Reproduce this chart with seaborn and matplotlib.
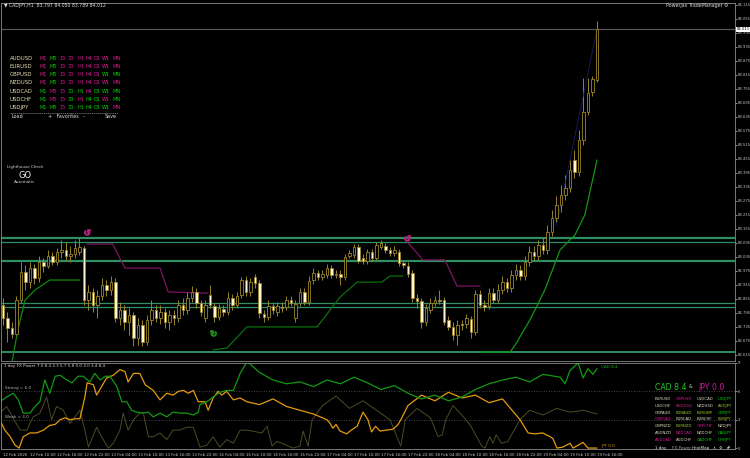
import numpy as np
import pandas as pd
import matplotlib
matplotlib.use("Agg")
import matplotlib.pyplot as plt
import seaborn as sns

sns.set_theme(style="dark")
plt.rcParams['font.family'] = ['DejaVu Sans']

# ---- CADJPY H1 candles (bar index 0..132) ----
opens = [
    82.829, 82.773, 82.730, 82.705, 82.850, 82.970, 82.927, 82.987, 82.945, 83.013,
    82.996, 83.039, 83.013, 83.056, 83.065, 83.039, 83.047, 83.056, 83.073, 82.850,
    82.885, 82.829, 82.867, 82.915, 82.893, 82.927, 82.773, 82.807, 82.756, 82.786,
    82.687, 82.743, 82.670, 82.765, 82.807, 82.773, 82.799, 82.756, 82.786, 82.773,
    82.829, 82.807, 82.859, 82.885, 82.837, 82.773, 82.872, 82.825, 82.777, 82.812,
    82.799, 82.859, 82.829, 82.872, 82.936, 82.885, 82.949, 82.923, 82.790, 82.777,
    82.825, 82.799, 82.820, 82.820, 82.850, 82.773, 82.837, 82.885, 82.842, 82.936,
    82.966, 82.949, 82.957, 82.987, 82.957, 82.962, 82.949, 83.039, 83.043, 83.077,
    83.030, 83.017, 83.056, 83.030, 83.077, 83.082, 83.065, 83.052, 83.056, 83.009,
    82.996, 82.966, 82.859, 82.846, 82.756, 82.807, 82.837, 82.850, 82.850, 82.765,
    82.735, 82.700, 82.747, 82.747, 82.769, 82.713, 82.876, 82.829, 82.825, 82.880,
    82.850, 82.893, 82.927, 82.902, 82.957, 82.979, 82.953, 83.013, 83.056, 83.039,
    83.086, 83.065, 83.142, 83.202, 83.257, 83.300, 83.330, 83.450, 83.399, 83.536,
    83.656, 83.742, 83.793]
highs = [
    82.859, 82.799, 82.756, 82.867, 83.013, 83.000, 83.013, 83.005, 83.039, 83.030,
    83.065, 83.056, 83.073, 83.107, 83.099, 83.082, 83.107, 83.116, 83.082, 82.915,
    82.902, 82.893, 82.945, 82.936, 82.953, 82.945, 82.842, 82.829, 82.816, 82.799,
    82.773, 82.765, 82.786, 82.850, 82.829, 82.829, 82.816, 82.807, 82.807, 82.850,
    82.859, 82.885, 82.910, 82.902, 82.850, 82.850, 82.915, 82.837, 82.833, 82.829,
    82.885, 82.876, 82.885, 82.949, 82.953, 82.945, 82.962, 82.936, 82.807, 82.850,
    82.842, 82.842, 82.842, 82.867, 82.867, 82.850, 82.902, 82.902, 82.953, 82.987,
    82.979, 82.979, 83.005, 83.000, 82.979, 82.979, 83.047, 83.065, 83.090, 83.090,
    83.047, 83.069, 83.069, 83.099, 83.107, 83.095, 83.077, 83.082, 83.069, 83.022,
    83.013, 82.979, 82.876, 82.859, 82.833, 82.859, 82.867, 82.893, 82.863, 82.782,
    82.756, 82.765, 82.765, 82.790, 82.782, 82.893, 82.893, 82.850, 82.902, 82.902,
    82.919, 82.953, 82.945, 82.979, 83.005, 83.000, 83.039, 83.082, 83.082, 83.107,
    83.116, 83.172, 83.236, 83.296, 83.343, 83.386, 83.450, 83.493, 83.579, 83.802,
    83.802, 83.810, 84.046]
lows = [
    82.743, 82.670, 82.687, 82.692, 82.837, 82.893, 82.902, 82.919, 82.927, 82.970,
    82.987, 83.000, 83.000, 83.030, 83.022, 83.013, 83.030, 83.043, 82.829, 82.807,
    82.799, 82.773, 82.850, 82.867, 82.872, 82.756, 82.743, 82.722, 82.700, 82.653,
    82.657, 82.653, 82.657, 82.743, 82.756, 82.747, 82.730, 82.722, 82.743, 82.756,
    82.786, 82.790, 82.842, 82.816, 82.782, 82.756, 82.816, 82.756, 82.765, 82.782,
    82.786, 82.807, 82.816, 82.859, 82.867, 82.867, 82.902, 82.773, 82.756, 82.765,
    82.790, 82.782, 82.799, 82.807, 82.825, 82.756, 82.825, 82.829, 82.829, 82.919,
    82.936, 82.936, 82.945, 82.945, 82.945, 82.915, 82.936, 83.030, 83.030, 83.009,
    83.005, 83.005, 83.017, 83.022, 83.069, 83.052, 83.039, 83.039, 82.996, 82.987,
    82.949, 82.842, 82.816, 82.730, 82.739, 82.795, 82.825, 82.833, 82.743, 82.722,
    82.679, 82.657, 82.722, 82.730, 82.687, 82.700, 82.816, 82.803, 82.812, 82.837,
    82.837, 82.876, 82.885, 82.885, 82.936, 82.936, 82.936, 82.996, 83.022, 83.022,
    83.047, 83.047, 83.125, 83.185, 83.227, 83.279, 83.313, 83.373, 83.382, 83.515,
    83.643, 83.725, 83.785]
closes = [
    82.773, 82.730, 82.705, 82.850, 82.970, 82.927, 82.987, 82.945, 83.013, 82.996,
    83.039, 83.013, 83.056, 83.065, 83.039, 83.047, 83.073, 83.077, 82.850, 82.885,
    82.829, 82.867, 82.915, 82.893, 82.927, 82.773, 82.807, 82.756, 82.786, 82.687,
    82.743, 82.670, 82.765, 82.807, 82.773, 82.799, 82.756, 82.786, 82.773, 82.829,
    82.807, 82.859, 82.885, 82.837, 82.799, 82.829, 82.829, 82.777, 82.816, 82.799,
    82.859, 82.829, 82.867, 82.936, 82.885, 82.927, 82.923, 82.795, 82.777, 82.825,
    82.807, 82.825, 82.816, 82.850, 82.837, 82.833, 82.885, 82.842, 82.932, 82.966,
    82.949, 82.962, 82.987, 82.957, 82.962, 82.949, 83.035, 83.052, 83.077, 83.017,
    83.017, 83.056, 83.030, 83.086, 83.095, 83.065, 83.052, 83.065, 83.009, 83.000,
    82.962, 82.859, 82.846, 82.756, 82.816, 82.837, 82.850, 82.846, 82.756, 82.735,
    82.700, 82.743, 82.743, 82.773, 82.713, 82.876, 82.829, 82.820, 82.880, 82.850,
    82.893, 82.927, 82.902, 82.957, 82.979, 82.953, 83.013, 83.056, 83.039, 83.086,
    83.065, 83.142, 83.202, 83.257, 83.300, 83.330, 83.407, 83.399, 83.536, 83.656,
    83.738, 83.798, 84.012]

time_labels = ["12 Feb 2026", "12 Feb 10:00", "12 Feb 16:00", "12 Feb 22:00",
               "13 Feb 04:00", "13 Feb 10:00", "13 Feb 16:00", "13 Feb 22:00",
               "16 Feb 04:00", "16 Feb 10:00", "16 Feb 16:00", "16 Feb 22:00",
               "17 Feb 04:00", "17 Feb 10:00", "17 Feb 16:00", "17 Feb 22:00",
               "18 Feb 04:00", "18 Feb 10:00", "18 Feb 16:00", "18 Feb 22:00",
               "19 Feb 04:00", "19 Feb 10:00", "19 Feb 16:00"]

# horizontal support / resistance levels
levels = [83.116, 83.099, 83.019, 82.838, 82.821, 82.628]
level_widths = [1.6, 0.9, 1.6, 0.9, 0.9, 1.4]
bid_price = 84.011

# trailing stop lines (bar index, price)
up1_x = [2.0, 3.3, 4.9, 7.1, 10.4, 17.1]
up1_y = [82.585, 82.722, 82.850, 82.893, 82.936, 82.936]
dn1_x = [18.7, 24.4, 27.1, 34.9, 36.7, 45.6]
dn1_y = [83.090, 83.090, 82.987, 82.987, 82.885, 82.880]
up2_x = [46.7, 49.8, 54.2, 69.8, 74.9, 78.7, 84.2, 86.0, 88.9]
up2_y = [82.636, 82.645, 82.735, 82.735, 82.863, 82.927, 82.927, 82.953, 82.953]
dn2_x = [89.8, 92.0, 93.3, 98.2, 100.9, 106.0]
dn2_y = [83.099, 83.052, 83.022, 83.022, 82.910, 82.910]
up3_x = [106.0, 112.7, 113.8, 117.1, 120.4, 123.8, 127.1, 129.3, 132.0]
up3_y = [82.627, 82.627, 82.657, 82.765, 82.893, 83.065, 83.129, 83.215, 83.450]
trend_x = [123.0, 132.0]
trend_y = [83.17, 84.01]

# FX Power indicator (bar index, value)
cad_x = [-0.7, 0.8, 2.3, 3.4, 4.5, 6.0, 7.1, 8.2, 9.3, 10.4, 11.6, 12.7, 14.2, 15.3,
         16.7, 17.8, 19.3, 20.4, 21.6, 22.7, 23.8, 25.3, 26.4, 27.5, 28.6, 29.7, 31.2,
         32.3, 33.4, 34.9, 36.4, 37.8, 39.3, 40.8, 42.3, 43.4, 43.8, 45.3, 46.7, 48.2,
         49.7, 51.2, 52.7, 54.2, 54.9, 57, 60, 63, 66, 69, 72, 75, 78, 81, 84, 87, 90,
         93, 96, 99, 102, 105, 108, 111, 114, 117, 120, 123.8, 124.9, 126.0, 127.8,
         128.9, 130.0, 131.1, 132.0]
cad_v = [4.9, 5.4, 5.8, 5.1, 3.7, 3.7, 4.4, 4.9, 7.2, 5.8, 7.6, 7.7, 7.2, 6.9,
         7.6, 7.6, 7.0, 7.9, 7.2, 7.6, 7.6, 6.5, 4.9, 4.9, 4.0, 3.8, 3.7,
         3.8, 3.3, 3.7, 3.3, 3.8, 3.7, 3.7, 3.5, 3.8, 4.6, 4.9, 5.4, 5.9,
         6.1, 6.1, 7.9, 9.1, 8.9, 8.0, 7.2, 6.8, 7.0, 6.5, 7.2, 6.8, 7.5, 6.9, 6.2, 6.6, 5.8,
         5.2, 5.6, 5.0, 5.4, 6.2, 6.8, 7.2, 7.5, 7.0, 7.8, 7.5, 6.8, 8.2, 9.0,
         7.4, 8.4, 7.8, 8.4]
jpy_x = [-0.7, 0.4, 1.6, 2.7, 3.6, 4.5, 6.0, 7.5, 9.0, 10.4, 11.6, 12.7, 13.8, 14.9,
         16.0, 17.1, 18.2, 18.7, 20.1, 20.8, 21.9, 23.0, 24.5, 26.0, 27.1, 27.8, 29.0,
         30.4, 31.6, 33.4, 34.9, 36.4, 37.8, 39.0, 40.1, 41.2, 42.3, 43.4, 44.9, 45.6,
         46.7, 47.8, 48.6, 49.7, 51.2, 52.7, 54.2, 57, 60, 63, 66, 69, 72.0, 72.7, 73.3,
         74.0, 74.9, 76.4, 77.1, 78.7, 79.3, 80.0, 81.1, 81.9, 82.8, 83.8, 85.3, 86.7,
         87.8, 88.4, 90, 93, 96, 99, 102, 105, 108, 111, 114.9, 116.7, 118.2, 119.9,
         121.6, 122.2, 123.1, 124.4, 126.0, 126.7, 128.9, 130.0, 132.0]
jpy_v = [3.0, 1.9, 1.2, 0.3, 0.0, 1.2, 1.6, 1.6, 1.9, 2.4, 2.5, 3.0, 3.2, 3.0,
         3.1, 3.1, 5.4, 6.9, 6.7, 5.6, 6.5, 7.4, 7.7, 8.3, 8.1, 7.0, 7.9,
         7.9, 6.7, 6.1, 5.1, 5.8, 5.6, 6.0, 6.1, 5.8, 6.1, 4.9, 4.9, 4.0,
         5.3, 6.0, 5.6, 6.0, 5.1, 5.3, 4.9, 4.6, 5.2, 4.4, 4.0, 3.6, 3.0, 2.6, 2.1,
         2.5, 1.8, 1.5, 1.8, 2.3, 3.0, 3.8, 3.0, 1.7, 2.3, 1.8, 1.9, 2.0,
         2.5, 3.0, 4.5, 5.6, 5.0, 5.9, 5.3, 5.6, 4.8, 5.2, 3.0, 1.6, 1.5, 1.6,
         1.2, 1.0, 0.0, 0.1, 0.5, 0.0, 0.6, 0.0, 0.0]
oth_x = [-0.7, 0.8, 3.8, 5.3, 6.7, 8.2, 9.7, 10.8, 11.9, 13.4, 14.9, 17.1, 18.2, 19.0,
         20.8, 21.9, 23.4, 24.5, 26.0, 26.7, 27.8, 29.0, 30.4, 31.2, 32.3, 33.4, 34.9,
         36.4, 37.8, 39.3, 40.8, 42.3, 43.8, 45.3, 46.7, 48.2, 49.7, 51.2, 52.7, 54.2,
         57.5, 58.7, 59.8, 60.9, 63.0, 64.4, 66.0, 66.7, 67.8, 68.7, 71, 74, 77, 80, 83,
         86, 88.4, 89.4, 92, 95, 96.7, 97.6, 98.4, 100, 102.9, 104.0, 106.4, 107.1,
         108.2, 108.9, 109.6, 110.8, 112.2, 114.9, 117, 120, 123, 126, 129, 132]
oth_v = [3.7, 4.4, 1.9, 1.9, 3.3, 3.7, 5.4, 3.0, 4.4, 4.0, 2.6, 4.0, 1.9, 0.1,
         2.2, 1.2, 0.0, 0.5, 1.9, 3.7, 1.9, 3.0, 3.7, 3.7, 1.2, 1.2, 1.6,
         0.9, 1.9, 1.9, 2.2, 2.2, 0.1, 0.3, 1.2, 0.1, 0.9, 0.5, 1.9, 1.9,
         1.6, 2.3, 0.2, 0.7, 0.3, 0.0, 0.2, 1.8, 0.2, 3.0, 4.5, 5.5, 4.2, 5.0, 4.0,
         3.0, 0.2, 3.0, 4.2, 3.2, 1.2, 1.4, 3.0, 4.5, 3.0, 2.3, 0.2, 0.0,
         1.2, 0.5, 1.4, 0.5, 0.7, 3.0, 4.0, 3.5, 4.2, 3.8, 4.0, 3.6]

pairs = ["AUDUSD", "EURUSD", "GBPUSD", "NZDUSD", "USDCAD", "USDCHF", "USDJPY"]
tframes = ["M1", "M5", "15", "30", "H1", "H4", "D1", "W1", "MN"]
tf_state = ["mgmmmmmmm", "mgmmmmmmm", "mgmmmmmgg", "mgmmmmmmm",
            "gmmggmggg", "gmmgmggmg", "ggmgggggm"]

heat_pairs = [["EURUSD", "GBPUSD", "USDCAD", "USDJPY"],
              ["USDCHF", "AUDUSD", "NZDUSD", "AUDJPY"],
              ["GBPAUD", "EURAUD", "EURGBP", "GBPJPY"],
              ["GBPCAD", "EURCAD", "EURCHF", "EURJPY"],
              ["GBPNZD", "EURNZD", "GBPCHF", "NZDJPY"],
              ["AUDNZD", "NZDCAD", "NZDCHF", "CADJPY"],
              ["AUDCAD", "AUDCHF", "CADCHF", "CHFJPY"]]
heat_state = ["wmwg", "wmwl", "wllg", "mwwl", "wlmw", "wmwg", "mwgg"]

# ---- figure ----
W, H = 750, 458
BG = "black"
WICK = "#9a8428"
BEAR = "#fff6d6"
GRN = {"g": "#00d400", "m": "#e0179a", "w": "#e0dcc0", "l": "#9ccc2c"}

fig = plt.figure(figsize=(W / 100, H / 100), dpi=100, facecolor=BG)
ax = fig.add_axes([1 / W, 1 - 361 / H, 734 / W, 358 / H], facecolor=BG)
sub = fig.add_axes([1 / W, 1 - 449 / H, 734 / W, 86 / H], facecolor=BG)

def fx(x):
    return x / W

def fy(y):
    return 1 - y / H

df = pd.DataFrame({"open": opens, "high": highs, "low": lows, "close": closes})
df["i"] = np.arange(len(df))
bull = df["close"] >= df["open"]

# levels behind candles
for lv, lw in zip(levels, level_widths):
    ax.axhline(lv, color="#2f8f63", lw=lw, zorder=1)
ax.axhline(bid_price, color="#5a5a5a", lw=0.8, zorder=1)

ax.vlines(df["i"], df["low"], df["high"], color=WICK, lw=0.7, zorder=2)
body = (df["close"] - df["open"]).abs().clip(lower=0.0015)
ax.bar(df["i"], body, bottom=df[["open", "close"]].min(axis=1), width=0.62,
       color=np.where(bull, BG, BEAR), edgecolor=WICK, linewidth=0.6, zorder=3)

for xs, ys, col in [(up1_x, up1_y, "#0f8a0f"), (dn1_x, dn1_y, "#7d1560"),
                    (up2_x, up2_y, "#0c700c"), (dn2_x, dn2_y, "#7d1560"),
                    (up3_x, up3_y, "#149614")]:
    sns.lineplot(x=xs, y=ys, ax=ax, color=col, lw=0.9, sort=False, estimator=None, zorder=2)
sns.lineplot(x=trend_x, y=trend_y, ax=ax, color="#1c1c6a", lw=0.6, sort=False, estimator=None, zorder=2)

ax.plot([18.7], [83.140], marker="$\u21ba$", color="#b0207a", ms=4)
ax.plot([46.7], [82.708], marker="$\u21bb$", color="#1a8a1a", ms=4)
ax.plot([89.8], [83.116], marker="$\u21ba$", color="#b0207a", ms=4)

ax.set_xlim(-0.44, 162.67)
ax.set_ylim(82.589, 84.123)
price_ticks = np.round(np.arange(82.615, 84.12, 0.06), 3)
ax.yaxis.tick_right()
ax.set_yticks(price_ticks)
ax.set_yticklabels([f"{p:.3f}" for p in price_ticks])
ax.tick_params(axis="y", colors="#c8c8c8", labelsize=2.7, length=1.5, width=0.5, pad=0.6)
ax.set_xticks([])
ax.text(1.0025, bid_price, f"{bid_price:.3f}", transform=ax.get_yaxis_transform(),
        fontsize=2.7, color="black", va="center", ha="left",
        bbox=dict(boxstyle="square,pad=0.12", facecolor="white", edgecolor="none"))

# indicator panel
sub.axhline(6, color="#5a5a5a", lw=0.6, ls=(0, (1, 2)))
sub.axhline(3, color="#5a5a5a", lw=0.6, ls=(0, (1, 2)))
sns.lineplot(x=oth_x, y=oth_v, ax=sub, color="#4e4a26", lw=0.7, sort=False, estimator=None)
sns.lineplot(x=jpy_x, y=jpy_v, ax=sub, color="#e39a12", lw=0.9, sort=False, estimator=None)
sns.lineplot(x=cad_x, y=cad_v, ax=sub, color="#119a11", lw=0.9, sort=False, estimator=None)
sub.set_xlim(-0.44, 162.67)
sub.set_ylim(-0.1, 9.0)
sub.yaxis.tick_right()
sub.set_yticks([0, 3, 6, 9])
sub.set_yticklabels(["0", "3", "6", "9"])
sub.tick_params(axis="y", colors="#c8c8c8", labelsize=2.7, length=1.5, width=0.5, pad=0.6)
sub.set_xticks(np.arange(0, 133, 6))
sub.set_xticklabels(time_labels, ha="left")
sub.tick_params(axis="x", colors="#c8c8c8", labelsize=2.8, length=2, width=0.5, pad=1)
sub.set_xlabel("")
sub.set_ylabel("")
ax.set_xlabel("")
ax.set_ylabel("")
for a in (ax, sub):
    for s in a.spines.values():
        s.set_color("#8a8a8a")
        s.set_linewidth(0.6)
    a.grid(False)

sub.text(0.004, 0.985, "1 day FX Power 7.0 8.4 3.3 5.7 5.8 0.0 3.0 3.4 8.4",
         transform=sub.transAxes, fontsize=3.0, color="#d0d0d0", va="top")
sub.text(0.4, 6.1, "Strong = 6.0", fontsize=3.0, color="#b0b0b0", va="bottom")
sub.text(0.4, 3.1, "Weak = 3.0", fontsize=3.0, color="#b0b0b0", va="bottom")
sub.text(133, 8.6, "CAD 8.4", fontsize=3.0, color="#19b019", va="center")
sub.text(133, 0.2, "JPY 0.0", fontsize=3.0, color="#e39a12", va="center")

# header texts
fig.text(fx(4), fy(5), "\u25bc CADJPY,H1  83.797 84.050 83.789 84.012",
         fontsize=3.3, color="#e0e0e0", va="center")
fig.text(fx(728), fy(6), "PowerJax TradeManager \u2699", fontsize=3.4,
         color="#d8d8d8", va="center", ha="right")

# timeframe matrix
tf_x = [40, 50, 59, 68, 77, 86, 94, 102, 112]
for r, (pair, st) in enumerate(zip(pairs, tf_state)):
    y = 58 + r * 8.3
    fig.text(fx(10), fy(y), pair, fontsize=3.9, color="#e6deb0", va="center")
    for c, tf in enumerate(tframes):
        fig.text(fx(tf_x[c]), fy(y), tf, fontsize=3.6, color=GRN[st[c]], va="center")
fig.add_artist(plt.Line2D([fx(10), fx(118)], [fy(113), fy(113)], color="#8a8a8a",
                          lw=0.5, ls=(0, (2, 1))))
fig.text(fx(12), fy(117), "Load", fontsize=3.5, color="#e0e0e0", va="center")
fig.text(fx(48), fy(117), "+   Favorites   -", fontsize=3.5, color="#e0e0e0", va="center")
fig.text(fx(105), fy(117), "Save", fontsize=3.5, color="#e0e0e0", va="center")

fig.text(fx(25), fy(167), "Lighthouse Check", fontsize=3.0, color="#d0d0d0", ha="center", va="center")
fig.text(fx(25), fy(175), "GO", fontsize=6.0, color="#f0f0f0", ha="center", va="center")
fig.text(fx(25), fy(182), "Automatic", fontsize=3.0, color="#d0d0d0", ha="center", va="center")

# currency strength panel
fig.text(fx(655), fy(387), "CAD 8.4", fontsize=5.6, color="#1fcc1f", va="center")
fig.text(fx(689), fy(387), "&", fontsize=3.5, color="#d0d0d0", va="center")
fig.text(fx(698), fy(387), "JPY 0.0", fontsize=5.6, color="#d0189a", va="center")
col_x = [655, 676, 697, 718]
for r, (row, st) in enumerate(zip(heat_pairs, heat_state)):
    y = 399 + r * 6.8
    for c, name in enumerate(row):
        fig.text(fx(col_x[c]), fy(y), name, fontsize=2.8, color=GRN[st[c]], va="center")
fig.text(fx(655), fy(448), "1 day", fontsize=3.0, color="#e0e0e0", va="center")
fig.text(fx(672), fy(448), "FX Power", fontsize=3.0, color="#a0a0a0", va="center")
fig.text(fx(692), fy(448), "HeatMap", fontsize=3.0, color="#e0e0e0", va="center")
fig.text(fx(712), fy(448), "\u2227", fontsize=3.0, color="#e0e0e0", va="center")
fig.text(fx(719), fy(448), "\u2699", fontsize=3.0, color="#e0e0e0", va="center")
# diagonal double-headed arrow icon (glyph not available in installed fonts)
fig.add_artist(matplotlib.patches.FancyArrowPatch((fx(726), fy(450)), (fx(731), fy(445)),
               transform=fig.transFigure, arrowstyle="<->", mutation_scale=2.5,
               color="#e0e0e0", lw=0.5))

fig.savefig("out.png", dpi=100, facecolor=BG)
